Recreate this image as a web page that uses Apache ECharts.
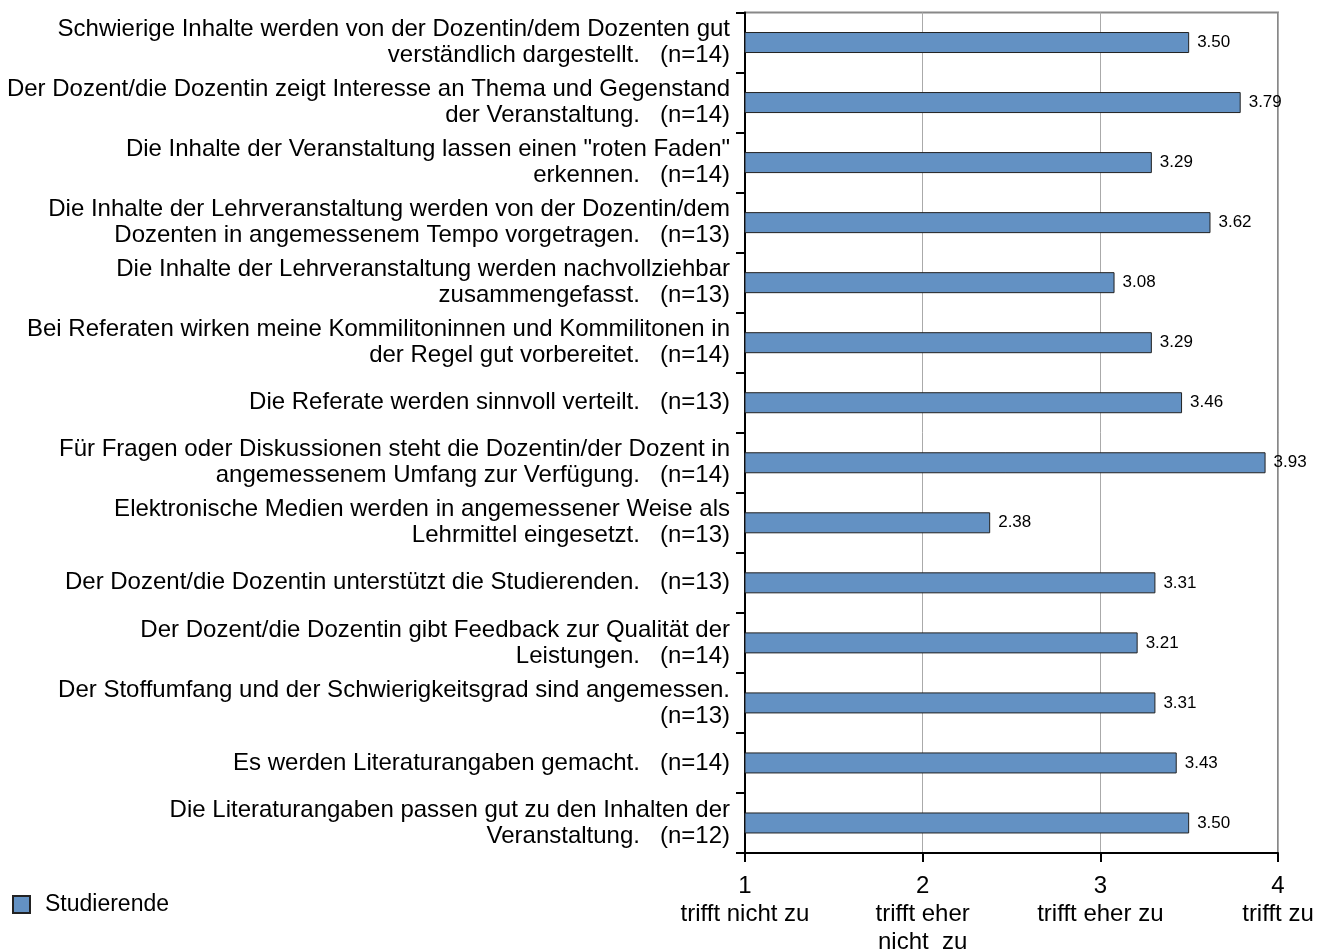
<!DOCTYPE html>
<html>
<head>
<meta charset="utf-8">
<script src="https://cdn.jsdelivr.net/npm/echarts@6/dist/echarts.min.js"></script>
<style>html,body{margin:0;padding:0;background:#fff}#c{width:1327px;height:950px}</style>
</head>
<body>
<div id="c"></div>
<script>
const categories = [
  'Schwierige Inhalte werden von der Dozentin/dem Dozenten gut\nverständlich dargestellt.   (n=14)',
  'Der Dozent/die Dozentin zeigt Interesse an Thema und Gegenstand\nder Veranstaltung.   (n=14)',
  'Die Inhalte der Veranstaltung lassen einen "roten Faden"\nerkennen.   (n=14)',
  'Die Inhalte der Lehrveranstaltung werden von der Dozentin/dem\nDozenten in angemessenem Tempo vorgetragen.   (n=13)',
  'Die Inhalte der Lehrveranstaltung werden nachvollziehbar\nzusammengefasst.   (n=13)',
  'Bei Referaten wirken meine Kommilitoninnen und Kommilitonen in\nder Regel gut vorbereitet.   (n=14)',
  'Die Referate werden sinnvoll verteilt.   (n=13)',
  'Für Fragen oder Diskussionen steht die Dozentin/der Dozent in\nangemessenem Umfang zur Verfügung.   (n=14)',
  'Elektronische Medien werden in angemessener Weise als\nLehrmittel eingesetzt.   (n=13)',
  'Der Dozent/die Dozentin unterstützt die Studierenden.   (n=13)',
  'Der Dozent/die Dozentin gibt Feedback zur Qualität der\nLeistungen.   (n=14)',
  'Der Stoffumfang und der Schwierigkeitsgrad sind angemessen.\n(n=13)',
  'Es werden Literaturangaben gemacht.   (n=14)',
  'Die Literaturangaben passen gut zu den Inhalten der\nVeranstaltung.   (n=12)'
];
const values = [3.50, 3.79, 3.29, 3.62, 3.08, 3.29, 3.46, 3.93, 2.38, 3.31, 3.21, 3.31, 3.43, 3.50];
const seriesName = 'Studierende';
const tickLabels = {1: '1\ntrifft nicht zu', 2: '2\ntrifft eher\nnicht  zu', 3: '3\ntrifft eher zu', 4: '4\ntrifft zu'};

const chart = echarts.init(document.getElementById('c'), null, {renderer: 'canvas'});
const FONT = 'Liberation Sans, Arial, sans-serif';
chart.setOption({
  animation: false,
  textStyle: {fontFamily: FONT},
  grid: {left: 745, right: 49, top: 12.5, bottom: 97, show: true, borderColor: '#888', borderWidth: 2,
         containLabel: false, outerBoundsMode: 'none'},
  legend: {
    show: true, left: 7, top: 888, itemWidth: 17, itemHeight: 17, icon: 'rect',
    textStyle: {fontSize: 23, color: '#000', fontFamily: FONT, padding: [0, 0, 0, 10]},
    itemGap: 10, data: [seriesName]
  },
  xAxis: {
    type: 'value', min: 1, max: 4, interval: 1,
    axisLine: {show: true, lineStyle: {color: '#000', width: 2}},
    axisTick: {show: true, length: 9, lineStyle: {color: '#000', width: 2}},
    splitLine: {show: true, lineStyle: {color: '#aaa', width: 1}},
    axisLabel: {
      margin: 19, color: '#000', fontSize: 24, lineHeight: 28, fontFamily: FONT, align: 'center',
      formatter: v => tickLabels[v] || ''
    }
  },
  yAxis: {
    type: 'category', inverse: true, data: categories,
    axisLine: {show: true, lineStyle: {color: '#000', width: 2}},
    axisTick: {show: true, length: 9, alignWithLabel: false, lineStyle: {color: '#000', width: 2}},
    axisLabel: {margin: 15, color: '#000', fontSize: 24, lineHeight: 26, align: 'right', fontFamily: FONT, padding: [5, 0, 0, 0]}
  },
  series: [{
    name: seriesName, type: 'bar', data: values, barWidth: 21,
    itemStyle: {color: '#6391C3', borderColor: '#222', borderWidth: 1},
    label: {show: true, position: 'right', distance: 8, color: '#000', fontSize: 17, fontFamily: FONT, formatter: p => p.value.toFixed(2)}
  }]
});
</script>
</body>
</html>
